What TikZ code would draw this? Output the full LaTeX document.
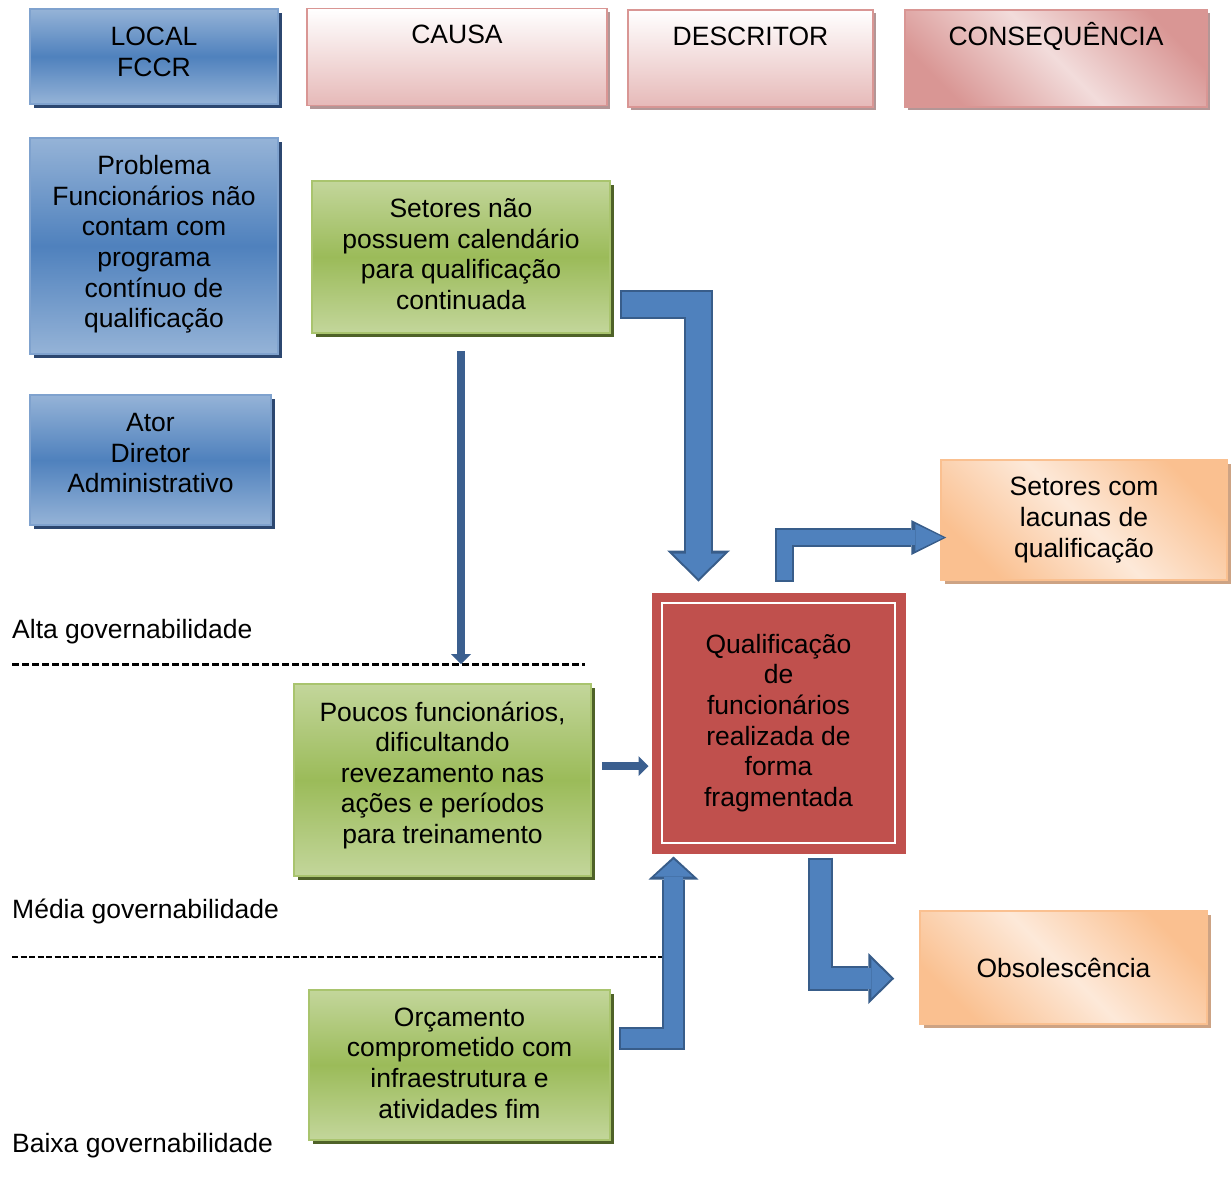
\documentclass[tikz,border=0pt]{standalone}
\usepackage{fontspec}
\setmainfont{Liberation Sans}
\usetikzlibrary{arrows.meta,shadows}
\definecolor{bluelt}{HTML}{95B3D7}
\definecolor{bluemd}{HTML}{4F81BD}
\definecolor{blueln}{HTML}{7FA2CE}
\definecolor{bluesh}{HTML}{2C4770}
\definecolor{pinkdk}{HTML}{E6B9B8}
\definecolor{pinkln}{HTML}{D99694}
\definecolor{pinkmd}{HTML}{F2DCDB}
\definecolor{pinksh}{HTML}{B39696}
\definecolor{greenlt}{HTML}{C3D69B}
\definecolor{greenmd}{HTML}{9BBB59}
\definecolor{greenln}{HTML}{A9C46E}
\definecolor{greensh}{HTML}{4F6228}
\definecolor{orangelt}{HTML}{FDE9D9}
\definecolor{orangedk}{HTML}{FAC090}
\definecolor{orangesh}{HTML}{CDA384}
\definecolor{redfill}{HTML}{C0504D}
\definecolor{arrowedge}{HTML}{385D8A}
\definecolor{arrowfill}{HTML}{4F81BD}
\definecolor{arrowthin}{HTML}{3B5F8F}

\begin{document}
\begin{tikzpicture}[x=1pt, y=-1pt,
    every node/.style={font=\fontsize{26.5}{30.6}\selectfont, align=center},
    sz/.style 2 args={minimum width=#1, minimum height=#2},
    bluebox/.style={draw=blueln, line width=1.5pt, top color=bluelt, bottom color=bluelt, middle color=bluemd,
      drop shadow={shadow xshift=4pt, shadow yshift=-4pt, fill=bluesh, opacity=1}},
    pinkhead/.style={draw=pinkln, line width=1.5pt, top color=white, bottom color=pinkdk,
      text height=27pt, text depth=54pt, inner ysep=8pt,
      drop shadow={shadow xshift=3pt, shadow yshift=-3pt, fill=pinksh, opacity=1}},
    diagpink/.style={top color=pinkln, bottom color=pinkln, middle color=pinkmd, shading angle=-45},
    greenbox/.style={draw=greenln, line width=1.5pt, top color=greenlt, bottom color=greenlt, middle color=greenmd,
      drop shadow={shadow xshift=4pt, shadow yshift=-4pt, fill=greensh, opacity=1}},
    orangebox/.style={draw=orangedk, line width=1.5pt, top color=orangedk, bottom color=orangedk, middle color=orangelt,
      shading angle=-45, drop shadow={shadow xshift=4pt, shadow yshift=-4pt, fill=orangesh, opacity=1}},
    redbox/.style={draw=redfill, fill=redfill, line width=1pt,
      path picture={\draw[white, line width=2.5pt] ([shift={(10pt,-10pt)}]path picture bounding box.north west)
        rectangle ([shift={(-10pt,10pt)}]path picture bounding box.south east);}},
    blkedge/.style={draw=arrowedge, line join=miter},
    blkfill/.style={draw=arrowfill, line join=miter, shorten <=2pt, shorten >=3pt},
    thinarr/.style={draw=arrowthin, line width=8pt, -{Triangle[width=20pt 0 0, length=10pt 0 0, line width=0pt 0 0]}},
    gov/.style={anchor=west, inner sep=0pt},
    dashA/.style={line width=3pt, dash pattern=on 7pt off 3pt},
    dashB/.style={line width=2.5pt, dash pattern=on 6pt off 2.5pt}]

\useasboundingbox (0,0) rectangle (1232,1187);

\node[bluebox, sz={248pt}{95pt}, text depth=10pt] (local) at (154,56.5) {LOCAL\\FCCR};
\node[pinkhead, minimum width=300pt] (causa) at (457,57) {CAUSA};
\node[pinkhead, minimum width=245pt] (descr) at (750.5,58.5) {DESCRITOR};
\node[pinkhead, diagpink, minimum width=302pt] (conseq) at (1056,58.5) {CONSEQUÊNCIA};

\node[bluebox, sz={248pt}{216pt}, text depth=9pt] (prob) at (154,246) {Problema\\Funcionários não\\contam com\\programa\\contínuo de\\qualificação};
\node[bluebox, sz={241pt}{130pt}, text depth=14pt] (ator) at (150.5,460) {Ator\\Diretor\\Administrativo};

\node[greenbox, sz={298pt}{152pt}, text depth=6pt] (setA) at (461,257) {Setores não\\possuem calendário\\para qualificação\\continuada};
\node[greenbox, sz={297pt}{192pt}, text depth=15pt] (pouc) at (442.5,780) {Poucos funcionários,\\dificultando\\revezamento nas\\ações e períodos\\para treinamento};
\node[greenbox, sz={301pt}{150pt}, text depth=4pt] (orc) at (459.5,1065) {Orçamento\\comprometido com\\infraestrutura e\\atividades fim};

\node[redbox, sz={253pt}{260pt}] (red) at (778.5,723) {Qualificação\\de\\funcionários\\realizada de\\forma\\fragmentada};

\node[orangebox, sz={286pt}{120pt}] (lac) at (1084,520) {Setores com\\lacunas de\\qualificação};
\node[orangebox, sz={287pt}{113pt}] (obs) at (1063.5,967.5) {Obsolescência};

\node[gov] (alta) at (12,632) {Alta governabilidade};
\node[gov] (media) at (12,911) {Média governabilidade};
\node[gov] (baixa) at (12,1146) {Baixa governabilidade};

\coordinate (altaend) at (585,664);
\coordinate (mediaend) at (662,957);
\draw[dashA] (12,664) -- (altaend);
\draw[dashB] (12,957) -- (mediaend);

\coordinate (a1s) at ([xshift=9pt,yshift=-47pt]setA.east);
\coordinate (a1e) at ([xshift=-80pt,yshift=11pt]red.north);
\coordinate (a2s) at ([xshift=6pt,yshift=11pt]red.north);
\coordinate (a2e) at ([xshift=6pt,yshift=-17.5pt]lac.west);
\coordinate (a3s) at ([xshift=8pt,yshift=26.5pt]orc.east);
\coordinate (a3e) at ([xshift=-105pt,yshift=-3pt]red.south);
\coordinate (a4s) at ([xshift=42pt,yshift=-4pt]red.south);
\coordinate (a4e) at ([xshift=-25pt,yshift=-11pt]obs.west);

\draw[blkedge, line width=29pt, -{Triangle[width=63pt 0 0, length=31pt 0 0, line width=0pt 0 0]}] (a1s) -| (a1e);
\draw[blkfill, line width=25pt, -{Triangle[width=51pt 0 0, length=25pt 0 0, line width=0pt 0 0]}] (a1s) -| (a1e);
\draw[blkedge, line width=19pt, -{Triangle[width=35pt 0 0, length=35pt 0 0, line width=0pt 0 0]}] (a2s) |- (a2e);
\draw[blkfill, line width=15pt, -{Triangle[width=27pt 0 0, length=28pt 0 0, line width=0pt 0 0]}] (a2s) |- (a2e);
\draw[blkedge, line width=23pt, -{Triangle[width=50pt 0 0, length=23pt 0 0, line width=0pt 0 0]}] (a3s) -| (a3e);
\draw[blkfill, line width=19pt, -{Triangle[width=38pt 0 0, length=17pt 0 0, line width=0pt 0 0]}] (a3s) -| (a3e);
\draw[blkedge, line width=25pt, -{Triangle[width=51pt 0 0, length=26pt 0 0, line width=0pt 0 0]}] (a4s) |- (a4e);
\draw[blkfill, line width=21pt, -{Triangle[width=39pt 0 0, length=20pt 0 0, line width=0pt 0 0]}] (a4s) |- (a4e);

\draw[thinarr] ([yshift=-17pt]setA.south) -- (setA.south |- altaend);
\draw[thinarr] ([xshift=10pt,yshift=14pt]pouc.east) -- ([xshift=-3pt]red.west |- 0,766);
\end{tikzpicture}
\end{document}
